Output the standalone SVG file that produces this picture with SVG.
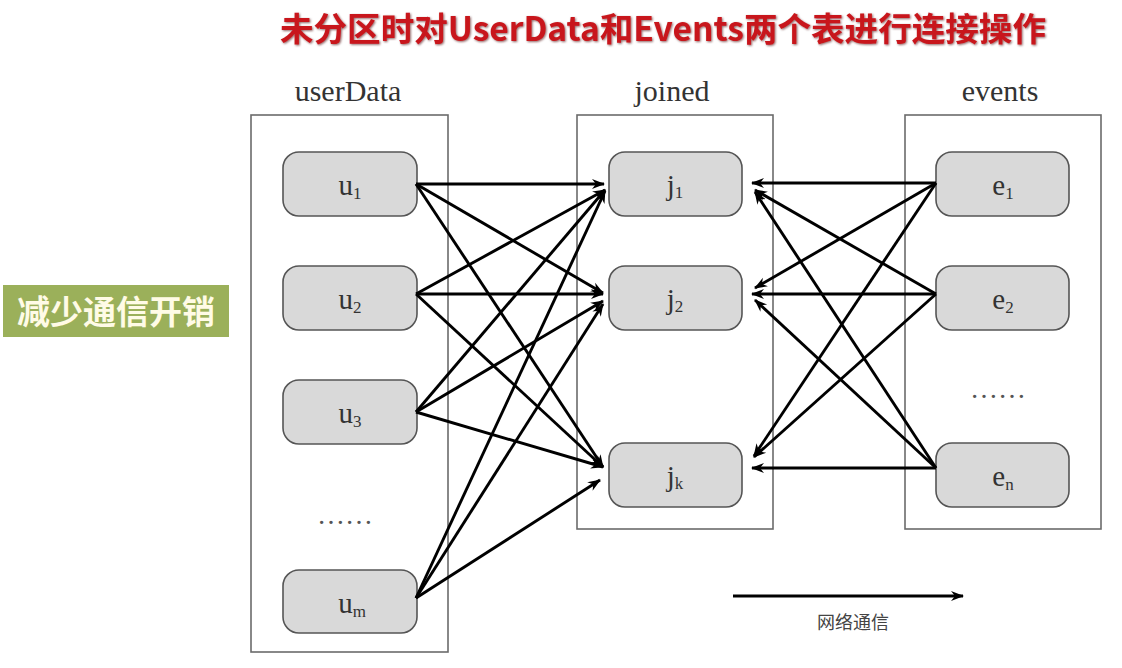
<svg xmlns="http://www.w3.org/2000/svg" width="1122" height="668" viewBox="0 0 1122 668">
<style>
.cont{fill:#fff;stroke:#6b6b6b;stroke-width:1.6}
.node{fill:#d9d9d9;stroke:#555;stroke-width:1.6}
.lbl{font-family:"Liberation Serif",serif;font-size:30px;fill:#333;text-anchor:middle}
.nt{font-family:"Liberation Serif",serif;font-size:29px;fill:#333;text-anchor:middle}
.sub{font-size:17px}
.dots{font-family:"Liberation Serif",serif;font-size:28px;fill:#555;text-anchor:middle}
.conn line{stroke:#000;stroke-width:2.9;marker-end:url(#ah)}
</style>
<defs>
<marker id="ah" markerUnits="userSpaceOnUse" markerWidth="14" markerHeight="12" viewBox="0 0 14 12" refX="12" refY="6" orient="auto">
<path d="M0,1 L13,6 L0,11 L4,6 z" fill="#000"/>
</marker>
<filter id="sh" x="-5%" y="-20%" width="110%" height="140%">
<feDropShadow dx="1" dy="1" stdDeviation="0.8" flood-color="#400" flood-opacity="0.6"/>
</filter>
</defs>
<rect width="1122" height="668" fill="#fff"/>
<text x="280" y="41" textLength="766" lengthAdjust="spacingAndGlyphs" font-family="'Noto Sans CJK SC',sans-serif" font-weight="bold" font-size="33" fill="#c8151b" filter="url(#sh)">未分区时对UserData和Events两个表进行连接操作</text>
<g id="note">
<rect x="3" y="285" width="226" height="52" fill="#9bb05a"/>
<text x="116" y="324" text-anchor="middle" font-family="'Noto Sans CJK SC',sans-serif" font-weight="bold" font-size="33" fill="#fffbe6">减少通信开销</text>
</g>
<g id="userData">
<rect class="cont" x="251" y="115" width="197" height="537"/>
<text class="lbl" x="348" y="101">userData</text>
<text class="dots" x="345" y="524">……</text>
</g>
<g id="joined">
<rect class="cont" x="577" y="115" width="196" height="414"/>
<text class="lbl" x="672" y="101">joined</text>
</g>
<g id="events">
<rect class="cont" x="905" y="115" width="196" height="414"/>
<text class="lbl" x="1000" y="101">events</text>
<text class="dots" x="998" y="398">……</text>
</g>
<g id="u1"><rect class="node" x="283" y="152" width="134" height="64" rx="16"/><text class="nt" x="350" y="195">u<tspan class="sub" dy="4">1</tspan></text></g>
<g id="u2"><rect class="node" x="283" y="266" width="134" height="64" rx="16"/><text class="nt" x="350" y="309">u<tspan class="sub" dy="4">2</tspan></text></g>
<g id="u3"><rect class="node" x="283" y="380" width="134" height="64" rx="16"/><text class="nt" x="350" y="423">u<tspan class="sub" dy="4">3</tspan></text></g>
<g id="um"><rect class="node" x="283" y="570" width="134" height="63" rx="16"/><text class="nt" x="352" y="613">u<tspan class="sub" dy="4">m</tspan></text></g>
<g id="j1"><rect class="node" x="609" y="152" width="133" height="64" rx="16"/><text class="nt" x="675" y="195">j<tspan class="sub" dy="3">1</tspan></text></g>
<g id="j2"><rect class="node" x="609" y="266" width="133" height="64" rx="16"/><text class="nt" x="675" y="309">j<tspan class="sub" dy="3">2</tspan></text></g>
<g id="jk"><rect class="node" x="609" y="443" width="133" height="64" rx="16"/><text class="nt" x="675" y="486">j<tspan class="sub" dy="3">k</tspan></text></g>
<g id="e1"><rect class="node" x="936" y="152" width="133" height="64" rx="16"/><text class="nt" x="1003" y="195">e<tspan class="sub" dy="4">1</tspan></text></g>
<g id="e2"><rect class="node" x="936" y="266" width="133" height="64" rx="16"/><text class="nt" x="1003" y="309">e<tspan class="sub" dy="4">2</tspan></text></g>
<g id="en"><rect class="node" x="936" y="443" width="133" height="64" rx="16"/><text class="nt" x="1003" y="486">e<tspan class="sub" dy="4">n</tspan></text></g>
<g class="conn" id="connectors">
<line x1="416" y1="184" x2="604" y2="184"/>
<line x1="416" y1="184" x2="603" y2="293"/>
<line x1="416" y1="184" x2="603" y2="467"/>
<line x1="416" y1="294" x2="605" y2="190"/>
<line x1="416" y1="294" x2="603" y2="294"/>
<line x1="416" y1="294" x2="603" y2="467"/>
<line x1="416" y1="412" x2="605" y2="190"/>
<line x1="416" y1="412" x2="603" y2="301"/>
<line x1="416" y1="412" x2="603" y2="467"/>
<line x1="416" y1="598" x2="605" y2="191"/>
<line x1="416" y1="598" x2="603" y2="304"/>
<line x1="416" y1="598" x2="600" y2="480"/>
<line x1="936" y1="183" x2="752" y2="183"/>
<line x1="936" y1="183" x2="755" y2="288"/>
<line x1="936" y1="183" x2="754" y2="456"/>
<line x1="936" y1="294" x2="755" y2="190"/>
<line x1="936" y1="294" x2="752" y2="294"/>
<line x1="936" y1="294" x2="754" y2="457"/>
<line x1="936" y1="468" x2="755" y2="192"/>
<line x1="936" y1="468" x2="755" y2="300"/>
<line x1="936" y1="468" x2="752" y2="468"/>
<line x1="733" y1="596" x2="963" y2="596"/>
</g>
<text x="853" y="629" text-anchor="middle" font-family="'Noto Sans CJK SC',sans-serif" font-size="18" fill="#444">网络通信</text>
</svg>
